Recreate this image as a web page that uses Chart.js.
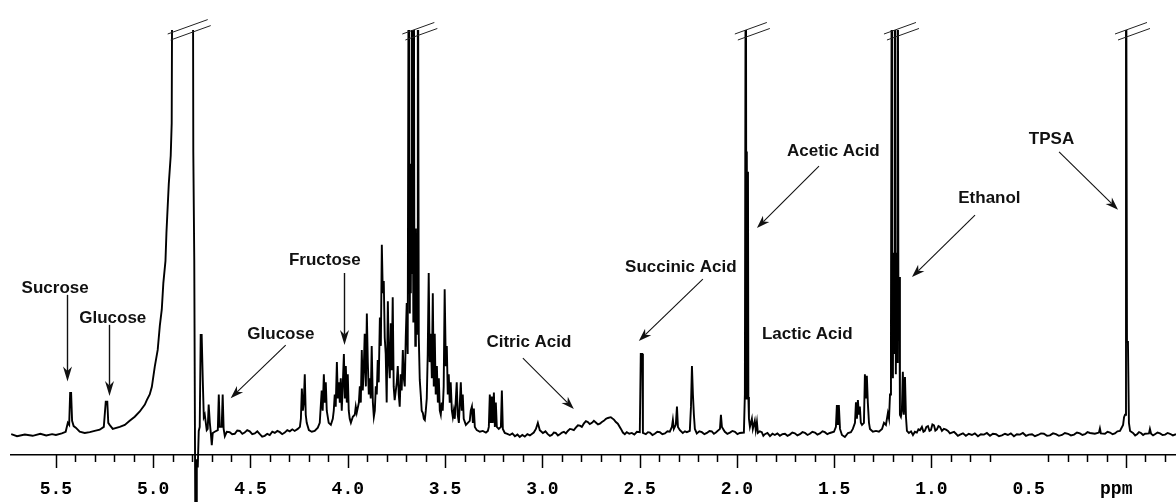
<!DOCTYPE html>
<html>
<head>
<meta charset="utf-8">
<script src="https://cdn.jsdelivr.net/npm/chart.js@4.4.1/dist/chart.umd.min.js"></script>
<style>
  html, body { margin: 0; padding: 0; background: #fff; }
</style>
</head>
<body>
<canvas id="nmr" width="1176" height="502"></canvas>
<script>
// [chemical shift (ppm), intensity]; baseline = 0, top of plot = 100, off-scale peaks = 150
const sugarLeft = [
  [5.73, 0.2], [5.70, -0.3], [5.66, 0.1], [5.62, -0.2], [5.58, 0.3], [5.55, -0.1], [5.52, 0.2], [5.50, 0.0], [5.47, 0.4],
  [5.450, 0.8], [5.439, 3], [5.432, 2.5], [5.427, 10.4], [5.422, 10.4], [5.417, 3.5], [5.409, 2.2], [5.398, 1.8],
  [5.378, 0.8], [5.352, 0.5], [5.326, 0.7], [5.301, 1.0], [5.275, 1.3], [5.254, 2], [5.244, 8.2], [5.236, 8.2],
  [5.231, 3], [5.224, 2.5], [5.208, 1.5], [5.172, 2], [5.146, 2.5], [5.121, 3.5], [5.095, 4.5], [5.069, 5.8],
  [5.043, 7.5], [5.033, 8.6], [5.018, 10], [5.007, 11.9], [4.992, 16.9], [4.977, 21], [4.966, 27], [4.956, 31],
  [4.948, 37.5], [4.937, 43], [4.932, 50], [4.928, 54], [4.920, 62], [4.910, 69], [4.905, 77], [4.900, 150]
];

const water = [
  [4.797, 150], [4.794, 70], [4.792, 70], [4.789, 43], [4.787, 43], [4.784, -17], [4.779, -17], [4.776, -6],
  [4.771, -8], [4.766, 1], [4.761, 2], [4.756, 24.7], [4.751, 24.7], [4.745, 13], [4.740, 4.4], [4.735, 5],
  [4.725, 1.2], [4.720, 1.5], [4.715, 7.5], [4.709, 3], [4.704, 0.5], [4.699, -2.5], [4.694, 0.5], [4.684, 0.8],
  [4.668, 1.2], [4.663, 10], [4.658, 2], [4.648, 2], [4.643, 10], [4.638, 1.5], [4.632, -0.3], [4.622, 0.8],
  [4.607, 0.7], [4.594, 0.2], [4.581, 0.3], [4.568, 1.1], [4.555, 1.0], [4.542, 0.3], [4.530, 0.6], [4.517, 1.2],
  [4.504, 0.9], [4.491, 0.2], [4.478, 0.4], [4.465, 0.9], [4.452, 0.2], [4.440, -0.4], [4.427, -0.2], [4.414, 0.3],
  [4.401, 0.0], [4.388, 0.8], [4.375, 0.5], [4.362, 1.0], [4.349, 0.7], [4.337, 0.2], [4.324, 0.6], [4.311, 1.2],
  [4.298, 0.9], [4.285, 1.4], [4.273, 1.0], [4.257, 1.5]
];

const sugars = [
  [4.246, 2], [4.241, 4], [4.236, 11.5], [4.231, 6], [4.226, 8], [4.221, 15], [4.216, 5], [4.211, 3], [4.200, 1.2],
  [4.185, 0.8], [4.170, 1.0], [4.154, 1.8], [4.144, 3], [4.134, 11], [4.129, 6], [4.123, 15], [4.118, 8], [4.113, 13],
  [4.108, 6], [4.098, 3], [4.087, 2.5], [4.077, 4], [4.072, 6], [4.067, 10], [4.062, 7], [4.056, 18], [4.051, 9],
  [4.046, 13], [4.041, 8], [4.036, 14], [4.031, 6], [4.026, 12], [4.020, 20], [4.015, 9], [4.010, 17], [4.005, 8],
  [4.000, 15], [3.995, 6], [3.990, 4], [3.984, 3], [3.974, 4.5], [3.964, 5], [3.959, 7], [3.954, 5.5], [3.943, 8],
  [3.938, 12], [3.933, 8], [3.928, 21], [3.923, 11], [3.918, 16], [3.913, 25], [3.907, 12], [3.902, 30], [3.897, 18],
  [3.892, 10], [3.887, 14], [3.882, 9], [3.877, 22], [3.871, 8], [3.866, 4.5], [3.861, 6], [3.856, 12], [3.851, 10],
  [3.846, 18.5], [3.841, 13], [3.835, 29], [3.830, 22], [3.825, 47], [3.820, 35], [3.815, 38], [3.810, 24],
  [3.805, 20], [3.800, 8], [3.794, 33], [3.789, 18], [3.784, 14], [3.779, 27.6], [3.774, 16], [3.769, 34],
  [3.764, 12], [3.759, 8.6], [3.753, 11], [3.748, 13], [3.743, 17], [3.738, 10], [3.733, 7], [3.728, 15],
  [3.723, 11], [3.717, 21], [3.712, 14], [3.707, 12], [3.702, 24], [3.697, 32.6], [3.692, 20],
  [3.686, 150], [3.684, 67], [3.681, 30], [3.679, 67], [3.676, 35], [3.674, 60], [3.671, 150], [3.668, 40],
  [3.666, 67], [3.663, 28], [3.661, 150], [3.658, 50], [3.656, 51], [3.653, 22], [3.650, 51], [3.648, 25],
  [3.645, 45], [3.643, 30], [3.640, 150], [3.635, 24], [3.630, 13.6], [3.625, 10], [3.620, 6], [3.614, 5.4],
  [3.609, 4], [3.604, 3.7], [3.599, 6], [3.594, 9], [3.589, 20], [3.584, 40], [3.579, 18], [3.573, 25],
  [3.568, 14], [3.563, 35], [3.558, 12], [3.553, 25], [3.548, 10], [3.542, 17], [3.537, 8], [3.532, 14],
  [3.527, 6], [3.522, 5], [3.517, 8], [3.512, 6], [3.507, 12], [3.502, 36], [3.496, 17], [3.491, 22],
  [3.486, 10], [3.481, 15], [3.476, 8], [3.471, 13], [3.465, 6], [3.460, 4.4], [3.455, 6], [3.450, 4],
  [3.440, 13], [3.435, 5], [3.429, 3], [3.419, 13], [3.414, 6], [3.409, 10], [3.404, 4], [3.393, 2.5],
  [3.383, 3], [3.373, 3.5], [3.368, 6], [3.362, 7], [3.357, 3], [3.352, 6.5], [3.347, 2], [3.337, 1.2],
  [3.321, 0.8], [3.306, 1.0], [3.290, 0.6], [3.280, 1.0], [3.275, 2], [3.270, 10], [3.265, 3], [3.260, 9.5],
  [3.255, 3], [3.249, 10.5], [3.244, 2], [3.239, 8], [3.234, 2], [3.224, 1.5], [3.213, 2], [3.208, 11],
  [3.203, 1.5], [3.193, 0.5]
];

const acids = [
  [3.180, 0.3], [3.167, 0.0], [3.154, 0.4], [3.141, -0.3], [3.128, 0.1], [3.116, -0.5], [3.103, 0.0], [3.090, -0.4],
  [3.077, 0.2], [3.064, -0.1], [3.044, 0.6], [3.033, 1.5], [3.023, 3], [3.013, 1.2], [2.997, 0.5], [2.984, 0.9],
  [2.972, 0.2], [2.961, -0.2], [2.951, 0.0], [2.941, 0.6], [2.931, 0.5], [2.920, -0.1], [2.910, 0.2], [2.899, 0.6],
  [2.889, 0.8], [2.879, 0.4], [2.869, 1.0], [2.858, 1.5], [2.848, 1.4], [2.838, 1.2], [2.828, 1.8], [2.817, 2.4],
  [2.807, 2.3], [2.797, 2.0], [2.787, 2.8], [2.776, 3.4], [2.766, 3.2], [2.756, 2.7], [2.745, 3.0], [2.735, 3.5],
  [2.725, 3.1], [2.714, 2.6], [2.704, 2.8], [2.694, 3.2], [2.684, 3.5], [2.673, 4.0], [2.663, 4.2], [2.648, 4.4],
  [2.632, 3.8], [2.622, 3.2], [2.612, 2.8], [2.596, 1.5], [2.586, 0.6], [2.576, 0.2], [2.566, 0.7], [2.553, 0.3],
  [2.540, 0.5], [2.527, 0.1], [2.514, 0.8], [2.499, 0.7], [2.494, 20], [2.486, 20], [2.483, 0.5], [2.468, 0.2],
  [2.457, 0.7], [2.447, 0.6], [2.434, 0.0], [2.422, 0.3], [2.409, 0.8], [2.396, 0.7], [2.383, 0.2], [2.370, 0.4],
  [2.357, 0.9], [2.345, 0.8], [2.334, 2], [2.329, 3.7], [2.324, 1.5], [2.314, 2.5], [2.308, 7], [2.303, 2],
  [2.293, 1.2], [2.278, 0.5], [2.267, 0.9], [2.257, 0.7], [2.242, 1.0], [2.236, 7], [2.231, 17], [2.226, 10],
  [2.221, 5], [2.216, 1.5], [2.206, 0.4], [2.193, 0.9], [2.180, 0.7], [2.167, 0.2], [2.154, 0.5], [2.141, 1.0],
  [2.129, 0.9], [2.118, 0.3], [2.108, 0.6], [2.087, 1.5], [2.082, 5], [2.077, 2], [2.062, 0.8], [2.049, 0.3],
  [2.036, 0.6], [2.023, 1.0], [2.010, 0.8], [1.997, 0.2], [1.985, 0.5], [1.964, 0.6], [1.959, 10], [1.954, 150],
  [1.951, 9], [1.949, 70], [1.946, 9.4], [1.943, 65], [1.941, 9.4], [1.938, 4], [1.933, 2], [1.923, 4],
  [1.918, 1.5], [1.908, 3.5], [1.903, 1.2], [1.897, 3.2], [1.892, 0.5], [1.882, 0.9], [1.872, 0.7], [1.864, -0.2],
  [1.856, 0.2], [1.843, 0.5], [1.830, -0.3], [1.817, 0.3], [1.805, 0.0], [1.792, 0.4], [1.779, -0.2], [1.766, 0.2],
  [1.753, 0.3], [1.740, -0.2], [1.728, 0.1], [1.715, 0.6], [1.702, 0.4], [1.689, -0.1], [1.676, 0.2], [1.663, 0.7],
  [1.650, 0.5], [1.637, 0.0], [1.625, 0.3], [1.612, 0.8], [1.599, 0.6], [1.586, 0.1], [1.573, 0.4], [1.560, 0.9],
  [1.548, 0.7], [1.535, 0.2], [1.522, 0.5], [1.501, 0.8], [1.491, 2], [1.486, 7.4], [1.481, 2.5], [1.476, 7.4],
  [1.470, 1.5], [1.460, 0.0], [1.445, -0.5], [1.429, 0.5], [1.414, 0.7], [1.404, 1.5], [1.393, 3], [1.388, 8.1],
  [1.383, 4], [1.378, 8.6], [1.373, 5], [1.368, 7], [1.363, 3], [1.357, 2.5], [1.347, 3], [1.342, 15],
  [1.337, 9], [1.332, 14.6], [1.327, 8], [1.321, 3], [1.316, 1.5], [1.301, 0.8], [1.285, 1.0], [1.270, 0.8],
  [1.254, 1.5], [1.244, 3], [1.234, 2.5], [1.224, 5.4], [1.218, 4], [1.213, 10], [1.208, 28], [1.203, 150],
  [1.201, 45], [1.198, 14], [1.196, 45], [1.193, 20], [1.190, 40], [1.188, 150], [1.185, 45], [1.183, 15],
  [1.180, 42], [1.177, 18], [1.175, 40], [1.172, 150], [1.170, 39], [1.167, 27], [1.165, 39], [1.162, 5],
  [1.157, 4.5], [1.152, 6], [1.147, 15.6], [1.142, 5], [1.136, 14.3], [1.131, 4.5], [1.126, 1], [1.116, 0.5]
];

const reference = [
  [1.105, 0.9], [1.095, 0.0], [1.085, 0.8], [1.075, 0.6], [1.067, 1.4], [1.059, 1.2], [1.049, 2], [1.041, 0.8],
  [1.034, 1.0], [1.026, 2.0], [1.018, 2.2], [1.010, 1.0], [1.003, 1.2], [0.995, 2.6], [0.987, 2.4], [0.980, 1.1],
  [0.972, 1.4], [0.964, 2.2], [0.956, 2.0], [0.946, 1.0], [0.936, 1.5], [0.925, 1.3], [0.915, 1.0], [0.905, 0.4],
  [0.895, 0.6], [0.884, 0.8], [0.874, 0.3], [0.864, -0.2], [0.853, 0.1], [0.838, 0.4], [0.823, -0.2], [0.808, 0.3],
  [0.792, 0.0], [0.777, 0.4], [0.761, -0.3], [0.746, 0.2], [0.730, 0.1], [0.715, 0.5], [0.699, -0.2], [0.684, 0.3],
  [0.668, 0.2], [0.653, -0.3], [0.638, -0.1], [0.622, 0.3], [0.607, 0.0], [0.592, 0.4], [0.576, -0.3], [0.561, 0.2],
  [0.545, 0.1], [0.530, 0.5], [0.514, -0.2], [0.499, 0.1], [0.483, 0.2], [0.468, -0.3], [0.452, 0.0], [0.437, 0.4],
  [0.422, 0.3], [0.406, -0.2], [0.391, -0.1], [0.375, 0.4], [0.360, 0.2], [0.345, -0.2], [0.329, 0.0], [0.314, 0.5],
  [0.298, 0.3], [0.283, -0.1], [0.267, 0.1], [0.252, 0.6], [0.237, 0.4], [0.224, 0.0], [0.211, 0.2], [0.198, 0.7],
  [0.185, 0.5], [0.160, 0.3], [0.139, 0.6], [0.134, 1.6], [0.129, 0.4], [0.108, 0.3], [0.095, 0.8], [0.082, 0.6],
  [0.069, 0.2], [0.057, 0.4], [0.044, 0.9], [0.031, 1.0], [0.015, 2.5], [0.010, 4.4], [0.005, 5], [0.000, 150],
  [-0.005, 23], [-0.010, 23], [-0.015, 3], [-0.021, 1.0], [-0.036, 0.5], [-0.047, -0.1], [-0.057, 0.2], [-0.067, 0.7],
  [-0.077, 0.5], [-0.088, 0.0], [-0.098, 0.3], [-0.118, 0.4], [-0.123, 1.5], [-0.129, 0.3], [-0.139, -0.1],
  [-0.149, 0.2], [-0.162, 0.6], [-0.175, 0.4], [-0.188, 0.0], [-0.201, 0.1], [-0.214, 0.5], [-0.226, 0.3],
  [-0.241, -0.1], [-0.257, 0.2]
];

const spectrum = [].concat(sugarLeft, water, sugars, acids, reference);

const tickValues = [5.5, 5.0, 4.5, 4.0, 3.5, 3.0, 2.5, 2.0, 1.5, 1.0, 0.5, 0.05];
const tickLabels = ['5.5', '5.0', '4.5', '4.0', '3.5', '3.0', '2.5', '2.0', '1.5', '1.0', '0.5', 'ppm'];
const majorTicks = [5.5, 5.0, 4.5, 4.0, 3.5, 3.0, 2.5, 2.0, 1.5, 1.0, 0.0];

// off-scale peak groups [from ppm, to ppm] that get a break mark
const offScale = [[4.900, 4.797], [3.686, 3.640], [1.954, 1.954], [1.203, 1.172], [0.0, 0.0]];

// text anchor [ppm, intensity] and optional arrow [ppm, intensity] -> [ppm, intensity]
const peakNames = [
  { text: 'Sucrose', at: [5.504, 35.1], from: [5.445, 34.6], to: [5.445, 13.2] },
  { text: 'Glucose', at: [5.208, 27.7], from: [5.229, 27.2], to: [5.229, 9.6] },
  { text: 'Glucose', at: [4.344, 23.7], from: [4.319, 22.2], to: [4.602, 9.1] },
  { text: 'Fructose', at: [4.118, 42.0], from: [4.021, 40.0], to: [4.021, 22.2] },
  { text: 'Citric Acid', at: [3.069, 21.7], from: [3.100, 19.0], to: [2.838, 6.4] },
  { text: 'Succinic Acid', at: [2.288, 40.2], from: [2.175, 38.5], to: [2.504, 23.2] },
  { text: 'Acetic Acid', at: [1.504, 68.9], from: [1.578, 66.4], to: [1.897, 51.1] },
  { text: 'Lactic Acid', at: [1.638, 23.7] },
  { text: 'Ethanol', at: [0.702, 57.3], from: [0.776, 54.3], to: [1.100, 39.0] },
  { text: 'TPSA', at: [0.383, 71.9], from: [0.344, 69.9], to: [0.041, 55.6] }
];

function arrow(ctx, x1, y1, x2, y2, len, half) {
  const a = Math.atan2(y2 - y1, x2 - x1);
  const c = Math.cos(a), s = Math.sin(a);
  const bx = x2 - len * c, by = y2 - len * s;
  const nx = x2 - len * 0.7 * c, ny = y2 - len * 0.7 * s;
  ctx.beginPath();
  ctx.moveTo(x1, y1);
  ctx.lineTo(nx, ny);
  ctx.stroke();
  ctx.beginPath();
  ctx.moveTo(x2, y2);
  ctx.lineTo(bx - half * s, by + half * c);
  ctx.lineTo(nx, ny);
  ctx.lineTo(bx + half * s, by - half * c);
  ctx.closePath();
  ctx.fill();
}

const decorations = {
  id: 'decorations',
  afterDraw(chart) {
    const ctx = chart.ctx;
    const xs = chart.scales.x, ys = chart.scales.y;
    const axisY = xs.top;
    ctx.save();

    // tick marks
    ctx.strokeStyle = '#000';
    ctx.lineWidth = 1.5;
    majorTicks.forEach(v => {
      const px = Math.round(xs.getPixelForValue(v)) + 0.5;
      ctx.beginPath(); ctx.moveTo(px, axisY); ctx.lineTo(px, axisY + 13); ctx.stroke();
    });
    for (let k = 54; k >= -2; k--) {
      if (k % 5 === 0 || k === 6) continue;
      const px = Math.round(xs.getPixelForValue(k / 10)) + 0.5;
      ctx.beginPath(); ctx.moveTo(px, axisY); ctx.lineTo(px, axisY + 7); ctx.stroke();
    }

    // break marks on off-scale peaks
    ctx.strokeStyle = '#222';
    ctx.lineWidth = 1;
    const top = chart.chartArea.top;
    offScale.forEach(([a, b]) => {
      const l = xs.getPixelForValue(a), r = xs.getPixelForValue(b);
      const cx = (l + r) / 2 + 5;
      const hw = Math.max(16, (r - l) / 2 + 10);
      const drop = 0.36 * 2 * hw;
      [[0, 4], [3, 10]].forEach(([dx, dy]) => {
        ctx.beginPath();
        ctx.moveTo(cx - hw + dx, top + dy);
        ctx.lineTo(cx + hw + dx, top + dy - drop);
        ctx.stroke();
      });
    });

    // peak names and arrows
    ctx.fillStyle = '#111';
    ctx.strokeStyle = '#111';
    ctx.font = "bold 17px 'Liberation Sans', Arial, sans-serif";
    ctx.textAlign = 'center';
    ctx.textBaseline = 'alphabetic';
    peakNames.forEach(n => {
      ctx.fillText(n.text, xs.getPixelForValue(n.at[0]), ys.getPixelForValue(n.at[1]));
      if (!n.from) return;
      const x1 = xs.getPixelForValue(n.from[0]), y1 = ys.getPixelForValue(n.from[1]);
      const x2 = xs.getPixelForValue(n.to[0]), y2 = ys.getPixelForValue(n.to[1]);
      const vertical = Math.abs(x2 - x1) < 1;
      ctx.lineWidth = vertical ? 1.4 : 1.1;
      arrow(ctx, vertical ? Math.round(x1) + 0.5 : x1, y1, vertical ? Math.round(x2) + 0.5 : x2, y2,
        vertical ? 15 : 13, vertical ? 4.5 : 4.5);
    });
    ctx.restore();
  }
};

new Chart(document.getElementById('nmr'), {
  type: 'line',
  data: {
    datasets: [{
      data: spectrum.map(p => ({ x: p[0], y: p[1] })),
      borderColor: '#000',
      borderWidth: 1.9,
      pointRadius: 0,
      tension: 0,
      fill: false,
      clip: { left: 0, right: 0, top: 0, bottom: false }
    }]
  },
  options: {
    responsive: false,
    animation: false,
    devicePixelRatio: 1,
    layout: { padding: { top: 30, left: 11, right: 0, bottom: 0 } },
    plugins: { legend: { display: false }, tooltip: { enabled: false } },
    scales: {
      x: {
        type: 'linear',
        reverse: true,
        min: -0.257,
        max: 5.731,
        afterBuildTicks: s => { s.ticks = tickValues.map(v => ({ value: v })); },
        afterFit: s => { s.height = 47; },
        grid: { display: false, drawTicks: false },
        border: { display: true, color: '#000', width: 1.5 },
        ticks: {
          autoSkip: false,
          maxRotation: 0,
          padding: 24,
          color: '#000',
          font: { family: "'Liberation Mono', monospace", size: 18, weight: 'bold' },
          callback: (v, i) => tickLabels[i]
        }
      },
      y: { display: false, min: -4.94, max: 100 }
    }
  },
  plugins: [decorations]
});
</script>
</body>
</html>
